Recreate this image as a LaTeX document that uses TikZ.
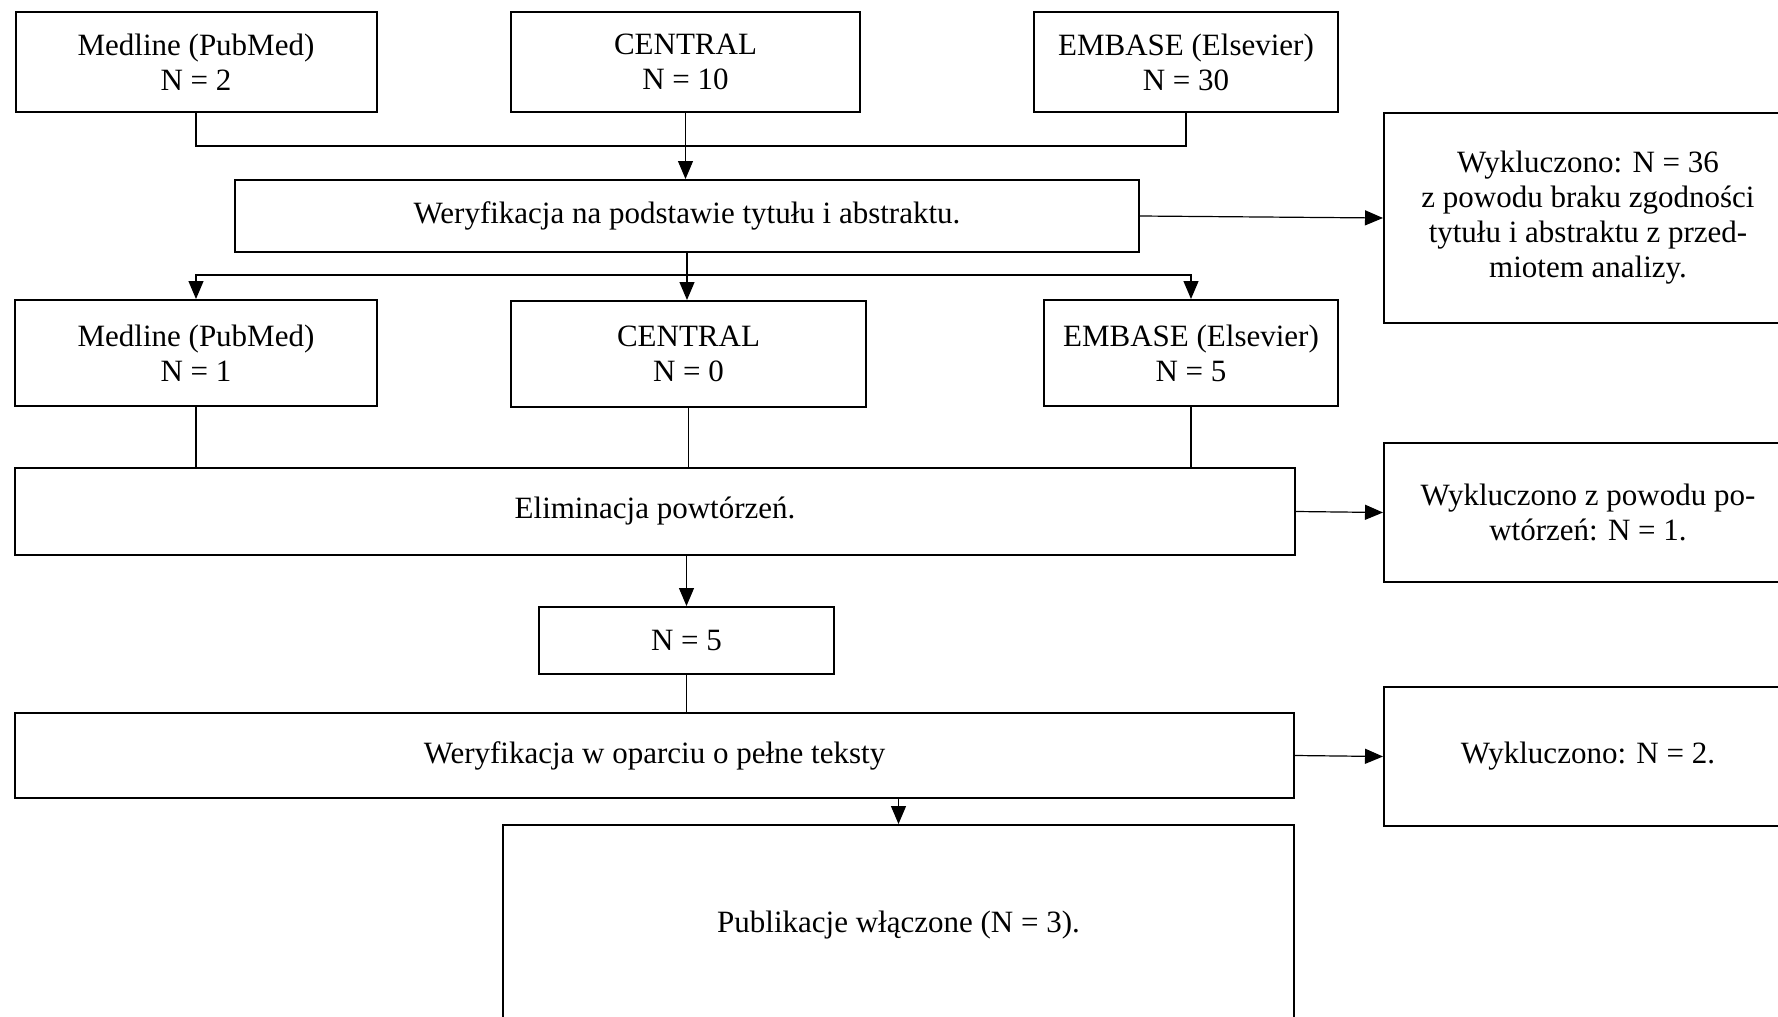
\documentclass[tikz,border=0pt]{standalone}
\usepackage{fontspec}
\setmainfont{Liberation Serif}
\usepackage{tikz}
\usetikzlibrary{arrows.meta}
\usetikzlibrary{positioning}

\begin{document}
\begin{tikzpicture}[x=0.5pt,y=-0.5pt,
			box/.style={draw,line width=1pt,align=center,inner sep=0pt,
				font=\fontsize{15.5}{17.5}\selectfont},
			link/.style={line width=0.6pt},
			arr/.style={link,-{Triangle[length=9pt,width=7.5pt]}}]
			\useasboundingbox (0,0) rectangle (1778,1017);
			
			% bazy danych
			\node[box,minimum width=180.5pt,minimum height=50pt] (med1) at (196,62) {Medline (PubMed)\\N = 2};
			\node[box,minimum width=174.5pt,minimum height=50pt] (cen1) at (685.5,62) {CENTRAL\\N = 10};
			\node[box,minimum width=152pt,minimum height=50pt] (emb1) at (1186,62) {EMBASE (Elsevier)\\N = 30};
			
			\node[box,minimum width=452pt,minimum height=36pt] (wer1) at (687,216) {Weryfikacja na podstawie tytułu i abstraktu.};
			\node[box,minimum width=204pt,minimum height=105pt] (wyk1) at (1588,218) {Wykluczono: N = 36\\z powodu braku zgodności\\tytułu i abstraktu z przed-\\miotem analizy.};
			
			\node[box,minimum width=181pt,minimum height=53pt] (med2) at (196,353) {Medline (PubMed)\\N = 1};
			\node[box,minimum width=177.5pt,minimum height=53pt] (cen2) at (688.5,354) {CENTRAL\\N = 0};
			\node[box,minimum width=147pt,minimum height=53pt] (emb2) at (1191,353) {EMBASE (Elsevier)\\N = 5};
			
			\node[box,minimum width=640pt,minimum height=43.5pt] (elim) at (655,511.5) {Eliminacja powtórzeń.};
			\node[box,minimum width=204pt,minimum height=69.5pt] (wyk2) at (1588,512.5) {Wykluczono z powodu po-\\wtórzeń: N = 1.};
			
			\node[box,minimum width=147.5pt,minimum height=33.5pt] (n5) at (686.5,640.5) {N = 5};
			
			\node[box,minimum width=639.5pt,minimum height=42.5pt] (wer2) at (654.5,755.5) {Weryfikacja w oparciu o pełne teksty};
			\node[box,minimum width=204pt,minimum height=69.5pt] (wyk3) at (1588,756.5) {Wykluczono: N = 2.};
			
			\node[box,minimum width=395.5pt,minimum height=100pt] (pub) at (898.5,925) {Publikacje włączone (N = 3).};
			
			% polaczenia
			\coordinate (j1) at (686,146);
			\coordinate (j2) at (687,275);
			\draw[link] (med1.south) |- (j1) -| (emb1.south);
			\draw[arr] (cen1.south) -- (cen1.south |- wer1.north);
			\draw[arr] (wer1.east) -- (wyk1.west);
			\draw[arr] (wer1.south) -- (wer1.south |- cen2.north);
			\draw[arr] (j2) -| (med2.north);
			\draw[arr] (j2) -| (emb2.north);
			\draw[link] (med2.south) -- (med2.south |- elim.north);
			\draw[link] (cen2.south) -- (cen2.south |- elim.north);
			\draw[link] (emb2.south) -- (emb2.south |- elim.north);
			\draw[arr] (elim.east) -- (wyk2.west);
			\draw[arr] (n5.north |- elim.south) -- (n5.north);
			\draw[link] (n5.south) -- (n5.south |- wer2.north);
			\draw[arr] (wer2.east) -- (wyk3.west);
			\draw[arr] (pub.north |- wer2.south) -- (pub.north);
		\end{tikzpicture}
\end{document}
